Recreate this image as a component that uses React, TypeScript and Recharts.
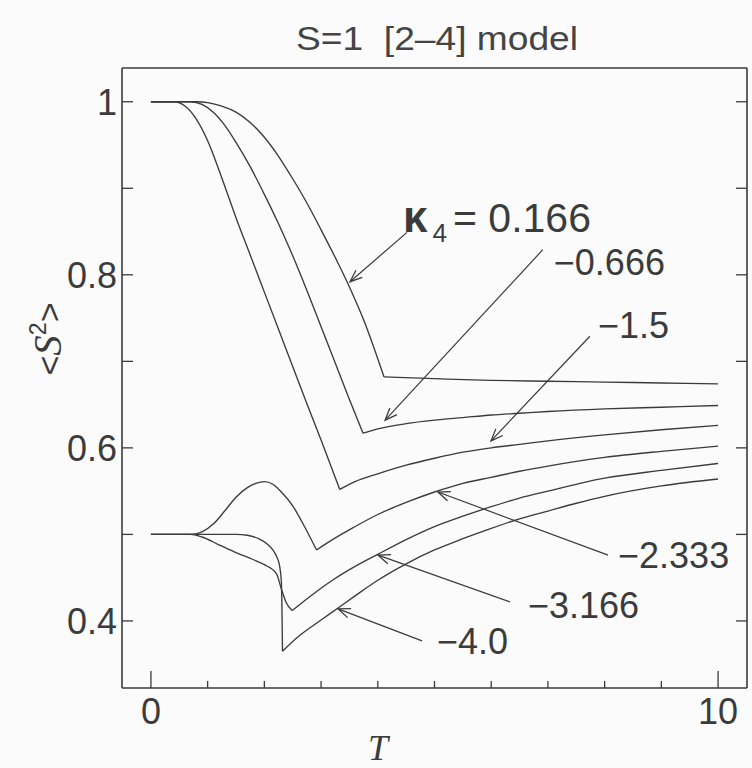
import { LineChart, Line, XAxis, YAxis, ReferenceLine } from 'recharts';

// <S^2> versus T for each kappa_4, read as (T, value) pairs
const T_K0166 = [0, 0.8, 1.0, 1.25, 1.5, 1.75, 2.0, 2.25, 2.5, 2.75, 3.0, 3.25, 3.5, 3.75, 4.0, 4.11, 5, 6, 7, 8, 9, 10];
const S_K0166 = [1, 1, 0.999, 0.995, 0.988, 0.976, 0.959, 0.937, 0.911, 0.883, 0.852, 0.82, 0.786, 0.748, 0.703, 0.682, 0.68, 0.678, 0.677, 0.676, 0.675, 0.674];

const T_K0666 = [0, 0.7, 0.9, 1.1, 1.3, 1.5, 1.75, 2.0, 2.25, 2.5, 2.75, 3.0, 3.25, 3.5, 3.74, 4.0, 4.5, 5, 5.5, 6, 6.5, 7, 8, 9, 10];
const S_K0666 = [1, 1, 0.997, 0.988, 0.973, 0.953, 0.925, 0.893, 0.859, 0.822, 0.782, 0.74, 0.698, 0.656, 0.617, 0.622, 0.628, 0.632, 0.635, 0.638, 0.64, 0.642, 0.645, 0.647, 0.649];

const T_K15 = [0, 0.4, 0.6, 0.8, 1.0, 1.25, 1.5, 1.75, 2.0, 2.25, 2.5, 2.75, 3.0, 3.33, 3.6, 4.0, 4.5, 5, 5.5, 6, 6.5, 7, 8, 9, 10];
const S_K15 = [1, 1, 0.995, 0.98, 0.955, 0.912, 0.866, 0.823, 0.78, 0.737, 0.694, 0.651, 0.609, 0.552, 0.561, 0.57, 0.58, 0.588, 0.595, 0.6, 0.604, 0.608, 0.615, 0.621, 0.626];

const T_K2333 = [0, 0.7, 0.9, 1.1, 1.3, 1.5, 1.7, 1.85, 2.0, 2.15, 2.3, 2.5, 2.7, 2.92, 3.2, 3.57, 4.0, 4.5, 5, 5.5, 6, 6.5, 7, 8, 9, 10];
const S_K2333 = [0.5, 0.5, 0.503, 0.512, 0.527, 0.543, 0.554, 0.559, 0.561, 0.558, 0.549, 0.533, 0.51, 0.482, 0.494, 0.508, 0.523, 0.537, 0.549, 0.559, 0.566, 0.573, 0.579, 0.589, 0.596, 0.602];

const T_K3166 = [0, 0.7, 0.9, 1.2, 1.5, 1.8, 2.0, 2.21, 2.3, 2.38, 2.49, 2.8, 3.2, 3.6, 4.0, 4.5, 5, 5.5, 6, 6.5, 7, 8, 9, 10];
const S_K3166 = [0.5, 0.5, 0.497, 0.488, 0.479, 0.471, 0.465, 0.455, 0.437, 0.422, 0.412, 0.428, 0.447, 0.463, 0.477, 0.494, 0.509, 0.521, 0.532, 0.542, 0.55, 0.565, 0.574, 0.582];

const T_K40 = [0, 1.5, 1.7, 1.9, 2.05, 2.15, 2.22, 2.27, 2.3, 2.32, 2.6, 3.0, 3.3, 3.6, 4.0, 4.5, 5, 5.5, 6, 6.5, 7, 7.5, 8, 9, 10];
const S_K40 = [0.5, 0.5, 0.499, 0.495, 0.489, 0.482, 0.474, 0.463, 0.445, 0.365, 0.382, 0.401, 0.415, 0.429, 0.447, 0.466, 0.482, 0.495, 0.507, 0.518, 0.527, 0.536, 0.544, 0.556, 0.564];

// temperature of the cusp on each curve
const KINK_T = [4.11, 3.74, 3.33, 2.92, 2.49, 2.32];

const X_TICKS = [0, 1, 2, 3, 4, 5, 6, 7, 8, 9, 10];
const X_LABELED = [0, 10];
const Y_TICKS = [0.4, 0.5, 0.6, 0.7, 0.8, 0.9, 1];
const Y_LABELED = [0.4, 0.6, 0.8, 1];

// arrow annotations: tail (near the text) -> head (on the curve)
const NOTE_TEXT = ['= 0.166', '−0.666', '−1.5', '−2.333', '−3.166', '−4.0'];
const NOTE_FROM = [[4.515, 0.849], [6.91, 0.829], [7.74, 0.729], [8.06, 0.476], [6.33, 0.422], [4.78, 0.377]];
const NOTE_TO = [[3.51, 0.792], [4.13, 0.632], [5.996, 0.608], [5.06, 0.549], [4.004, 0.476], [3.3, 0.414]];
const NOTE_SHIFT = [[-4, -14], [11, 12], [8, -11], [10, 0], [18, 3], [15, 0]];

const toPoints = (t: number[], s: number[]) => t.map((v, i) => ({ t: v, s: s[i] }));

const CURVES = [
  { id: 'k0166', data: toPoints(T_K0166, S_K0166) },
  { id: 'k0666', data: toPoints(T_K0666, S_K0666) },
  { id: 'k15', data: toPoints(T_K15, S_K15) },
  { id: 'k2333', data: toPoints(T_K2333, S_K2333) },
  { id: 'k3166', data: toPoints(T_K3166, S_K3166) },
  { id: 'k40', data: toPoints(T_K40, S_K40) },
];

// each curve is smooth on both sides of its cusp, so draw the two branches separately
const BRANCHES = CURVES.flatMap((c, i) => [
  { id: `${c.id}-lo`, data: c.data.filter((p) => p.t <= KINK_T[i]) },
  { id: `${c.id}-hi`, data: c.data.filter((p) => p.t >= KINK_T[i]) },
]);

const INK = '#3b3b3b';
const FONT = '"Liberation Sans", Arial, sans-serif';
const SERIF = '"Liberation Serif", "Times New Roman", serif';
const X_DOMAIN = [-0.51, 10.51];
const Y_DOMAIN = [0.3225, 1.039];

const BottomTick = ({ x, y, payload }: any) => {
  const big = X_LABELED.includes(payload.value);
  return (
    <g>
      <line x1={x} x2={x} y1={y} y2={y - (big ? 17 : 7)} stroke={INK} strokeWidth={1.3} />
      {big && (
        <text x={x} y={y + 36} textAnchor="middle" fontSize={36} fontFamily={FONT} fill={INK}>
          {payload.value}
        </text>
      )}
    </g>
  );
};

const TopTick = ({ x, y, payload }: any) => {
  const big = X_LABELED.includes(payload.value);
  return <line x1={x} x2={x} y1={y} y2={y + (big ? 15 : 6)} stroke={INK} strokeWidth={1.3} />;
};

const LeftTick = ({ x, y, payload }: any) => (
  <g>
    <line x1={x} x2={x + 11} y1={y} y2={y} stroke={INK} strokeWidth={1.3} />
    {Y_LABELED.includes(payload.value) && (
      <text x={x - 5} y={y + 13} textAnchor="end" fontSize={36} fontFamily={FONT} fill={INK}>
        {payload.value}
      </text>
    )}
  </g>
);

const RightTick = ({ x, y }: any) => (
  <line x1={x} x2={x - 11} y1={y} y2={y} stroke={INK} strokeWidth={1.3} />
);

const arrowShape = (i: number) => (props: any) => {
  const { x1, y1, x2, y2 } = props;
  const ang = Math.atan2(y2 - y1, x2 - x1);
  const len = 13;
  const spread = 0.38;
  const a = [x2 - len * Math.cos(ang - spread), y2 - len * Math.sin(ang - spread)];
  const b = [x2 - len * Math.cos(ang + spread), y2 - len * Math.sin(ang + spread)];
  const [dx, dy] = NOTE_SHIFT[i];
  return (
    <g>
      <line x1={x1} y1={y1} x2={x2} y2={y2} stroke={INK} strokeWidth={1.2} />
      <polyline points={`${a[0]},${a[1]} ${x2},${y2} ${b[0]},${b[1]}`} fill="none" stroke={INK} strokeWidth={1.3} />
      {i === 0 ? (
        <text x={x1 + dx} y={y1 + dy + 14} fontSize={41} fontFamily={FONT} fill={INK}>
          <tspan fontWeight="bold" fontSize={44}>κ</tspan>
          <tspan dx={5} dy={10} fontSize={26}>4</tspan>
          <tspan dx={6} dy={-10}>{NOTE_TEXT[i]}</tspan>
        </text>
      ) : (
        <text x={x1 + dx} y={y1 + dy + 13} fontSize={36} fontFamily={FONT} fill={INK}>
          {NOTE_TEXT[i]}
        </text>
      )}
    </g>
  );
};

export default function App() {
  return (
    <div style={{ position: 'absolute', left: 0, top: 0, width: 752, height: 768, background: '#fcfbfc' }}>
      <LineChart width={752} height={768} margin={{ top: 58, right: 0, bottom: 20, left: 22 }}>
        <XAxis
          dataKey="t"
          type="number"
          domain={X_DOMAIN}
          allowDataOverflow
          ticks={X_TICKS}
          tickSize={0}
          tickMargin={0}
          tickLine={false}
          tick={<BottomTick />}
          height={60}
          stroke={INK}
          strokeWidth={1.6}
        />
        <XAxis
          xAxisId="top"
          orientation="top"
          type="number"
          domain={X_DOMAIN}
          allowDataOverflow
          ticks={X_TICKS}
          tickSize={0}
          tickMargin={0}
          tickLine={false}
          tick={<TopTick />}
          height={10}
          stroke={INK}
          strokeWidth={1.6}
        />
        <YAxis
          type="number"
          domain={Y_DOMAIN}
          allowDataOverflow
          ticks={Y_TICKS}
          tickSize={0}
          tickMargin={0}
          tickLine={false}
          tick={<LeftTick />}
          width={100}
          stroke={INK}
          strokeWidth={1.6}
        />
        <YAxis
          yAxisId="right"
          orientation="right"
          type="number"
          domain={Y_DOMAIN}
          allowDataOverflow
          ticks={Y_TICKS}
          tickSize={0}
          tickMargin={0}
          tickLine={false}
          tick={<RightTick />}
          width={5}
          stroke={INK}
          strokeWidth={1.6}
        />
        {BRANCHES.map((b) => (
          <Line
            key={b.id}
            data={b.data}
            dataKey="s"
            type="monotone"
            stroke={INK}
            strokeWidth={1.35}
            dot={false}
            isAnimationActive={false}
          />
        ))}
        {NOTE_FROM.map((from, i) => (
          <ReferenceLine
            key={i}
            segment={[
              { x: from[0], y: from[1] },
              { x: NOTE_TO[i][0], y: NOTE_TO[i][1] },
            ]}
            shape={arrowShape(i)}
          />
        ))}
      </LineChart>
      <svg
        width={752}
        height={768}
        style={{ position: 'absolute', left: 0, top: 0, pointerEvents: 'none' }}
      >
        <text x={437} y={50} textAnchor="middle" fontSize={34} fontFamily={FONT} fill="#444" textLength={282} lengthAdjust="spacingAndGlyphs">
          {'S=1\u00a0\u00a0[2–4] model'}
        </text>
        <text transform="translate(61,339) rotate(-90)" textAnchor="middle" fontSize={34} fontFamily={FONT} fill={INK}>
          {'<'}
          <tspan fontFamily={SERIF} fontStyle="italic" fontSize={41}>S</tspan>
          <tspan dy={-15} fontSize={23}>2</tspan>
          <tspan dy={15}>{'>'}</tspan>
        </text>
        <text x={378} y={760} textAnchor="middle" fontSize={36} fontFamily={SERIF} fontStyle="italic" fill={INK}>
          T
        </text>
      </svg>
    </div>
  );
}
